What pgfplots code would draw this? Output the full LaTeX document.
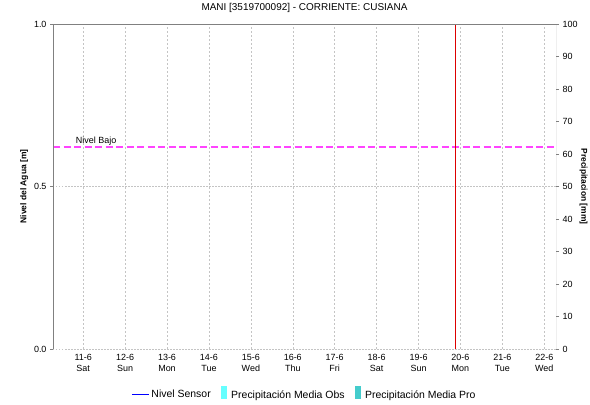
\documentclass[border=0pt]{standalone}
\usepackage{fontspec}
\setmainfont{Liberation Sans}
\usepackage{pgfplots}
\pgfplotsset{compat=1.18}
\definecolor{gridc}{HTML}{C4C4C4}
\definecolor{axc}{HTML}{808080}
\definecolor{nivbajo}{HTML}{FF44FF}
\definecolor{obs}{HTML}{66FFFF}
\definecolor{pro}{HTML}{44CCCC}
\definecolor{nowc}{HTML}{DD0000}
\begin{document}
\begin{tikzpicture}
\useasboundingbox (0,0) rectangle (590bp,405bp);
\begin{axis}[
  at={(53bp,56bp)}, anchor=south west,
  scale only axis, width=503bp, height=325bp,
  xmin=10.28, xmax=22.28, ymin=0, ymax=1,
  axis lines*=left,
  axis line style={draw=none},
  title={MANI [3519700092] - CORRIENTE: CUSIANA},
  title style={at={(0.5,1)}, anchor=south, yshift=2bp, font=\fontsize{10}{12}\selectfont},
  xtick={11,12,13,14,15,16,17,18,19,20,21,22},
  xticklabels={{11-6\\Sat},{12-6\\Sun},{13-6\\Mon},{14-6\\Tue},{15-6\\Wed},{16-6\\Thu},{17-6\\Fri},{18-6\\Sat},{19-6\\Sun},{20-6\\Mon},{21-6\\Tue},{22-6\\Wed}},
  xticklabel style={align=center, font=\fontsize{9}{10.5}\selectfont, text=black, yshift=1bp},
  xtick style={draw=none},
  ytick={0,0.5,1},
  yticklabels={0.0,0.5,1.0},
  yticklabel style={font=\fontsize{9}{10.5}\selectfont, text=black},
  ytick style={axc},
  tick align=outside,
  major tick length=3bp,
  xmajorgrids, ymajorgrids,
  x grid style={gridc, dash pattern=on 2bp off 2bp},
  y grid style={gridc, dash pattern=on 1.5bp off 1.5bp, line width=0.8bp},
  ylabel={Nivel del Agua [m]},
  ylabel style={at={(axis description cs:-0.057,0.5)}, anchor=center, font=\bfseries\fontsize{8.5}{10}\selectfont},
  legend style={at={(0.5,-0.138)}, anchor=center, draw=none, fill=none, legend columns=-1,
    font=\fontsize{10.5}{12}\selectfont, /tikz/every even column/.append style={column sep=5bp}},
  legend cell align=left,
]
\addlegendimage{line legend, blue, line width=1bp}
\addlegendentry{Nivel Sensor}
\addlegendimage{legend image code/.code={\fill[obs, draw=none] (0.3em,-0.75ex) rectangle (0.9em,1.65ex); \path[draw=none, fill=none] (0,0) rectangle (1.15em,0.1ex);}}
\addlegendentry{Precipitación Media Obs}
\addlegendimage{legend image code/.code={\fill[pro, draw=none] (0.3em,-0.75ex) rectangle (0.9em,1.65ex); \path[draw=none, fill=none] (0,0) rectangle (1.15em,0.1ex);}}
\addlegendentry{Precipitación Media Pro}
% Nivel Bajo threshold
\addplot[nivbajo, line width=1.6bp, dash pattern=on 7bp off 3.5bp, forget plot] coordinates {(10.28,0.622) (22.28,0.622)};
\node[anchor=south west, font=\fontsize{9}{10.5}\selectfont, inner sep=1bp] at (axis cs:10.8,0.622) {Nivel Bajo};
% current time line
\addplot[nowc, line width=0.7bp, forget plot] coordinates {(19.87,0) (19.87,1)};
% frame
\draw[axc, line width=0.8bp] (rel axis cs:0,0) -- (rel axis cs:0,1) -- (rel axis cs:1,1) -- (rel axis cs:1,0);
\draw[black!75, line width=0.9bp, dash pattern=on 1bp off 1bp] (rel axis cs:0,0) -- (rel axis cs:1,0);
\end{axis}
\begin{axis}[
  at={(53bp,56bp)}, anchor=south west,
  scale only axis, width=503bp, height=325bp,
  xmin=10.28, xmax=22.28, ymin=0, ymax=100,
  axis y line*=right, axis x line=none,
  axis line style={draw=none},
  ytick={0,10,20,30,40,50,60,70,80,90,100},
  yticklabels={0,10,20,30,40,50,60,70,80,90,100},
  yticklabel style={font=\fontsize{9}{10.5}\selectfont, text=black},
  ytick style={axc},
  tick align=outside,
  major tick length=3bp,
  ylabel={Precipitacion [mm]},
  ylabel style={at={(axis description cs:1.055,0.5)}, anchor=center, rotate=180, font=\bfseries\fontsize{8.5}{10}\selectfont},
]
\end{axis}
\end{tikzpicture}
\end{document}
